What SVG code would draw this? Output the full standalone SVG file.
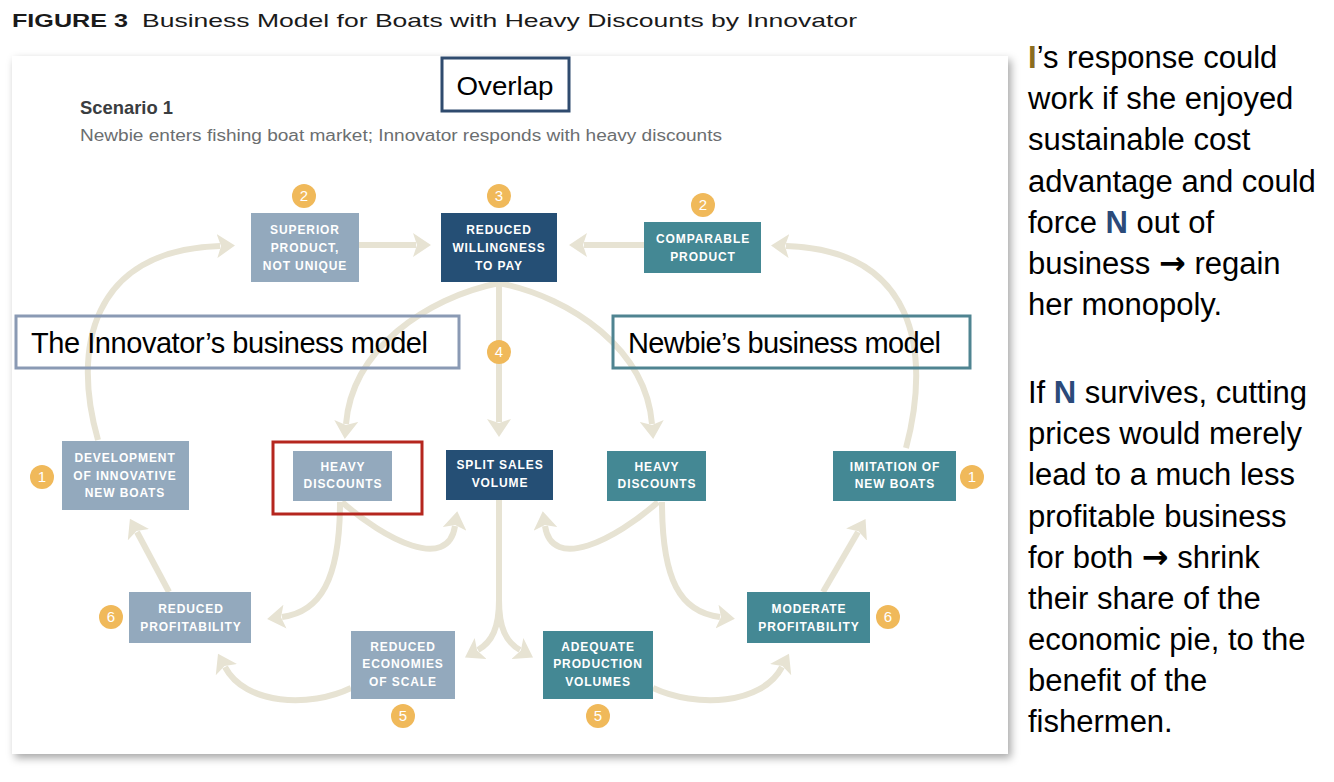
<svg xmlns="http://www.w3.org/2000/svg" width="1334" height="782" viewBox="0 0 1334 782">
<defs>
<style>
.light{fill:#93a9bd}
.navy{fill:#254f75}
.teal{fill:#448894}
.nt{font-family:"Liberation Sans",Arial,sans-serif;font-weight:bold;font-size:12px;fill:#fff;letter-spacing:0.9px;text-anchor:middle}
.badge circle{fill:#f0b95a}
.badge text{font-family:"Liberation Sans",Arial,sans-serif;font-size:15px;fill:#fff;text-anchor:middle}
.conn path{fill:none;stroke:#e7e3d3;stroke-width:6}
.lbl{font-family:"Liberation Sans",Arial,sans-serif;font-size:29px;fill:#000}
.side{font-family:"Liberation Sans",Arial,sans-serif;font-size:31px;fill:#000}
.arr{font-family:"Noto Sans","DejaVu Sans",sans-serif;font-weight:bold;font-size:32px}
</style>
<marker id="ah" markerUnits="userSpaceOnUse" markerWidth="18" markerHeight="24" viewBox="0 0 18 24" refX="3" refY="12" orient="auto">
<path d="M0,0 L18,12 L0,24 L4,12 z" fill="#e7e3d3"/>
</marker>
<filter id="sh" x="-5%" y="-5%" width="110%" height="112%">
<feDropShadow dx="3" dy="4" stdDeviation="4" flood-color="#000" flood-opacity="0.35"/>
</filter>
</defs>
<rect width="1334" height="782" fill="#fff"/>

<g id="title">
<text x="12" y="27" font-family="Liberation Sans,Arial,sans-serif" font-weight="bold" font-size="18.5" fill="#1a1a1a" textLength="116" lengthAdjust="spacingAndGlyphs">FIGURE 3</text>
<text x="142" y="27" font-family="Liberation Sans,Arial,sans-serif" font-size="18.5" fill="#1a1a1a" textLength="715" lengthAdjust="spacingAndGlyphs">Business Model for Boats with Heavy Discounts by Innovator</text>
</g>

<rect id="card" x="12" y="56" width="996" height="698" fill="#fff" filter="url(#sh)"/>

<g id="scenario">
<text x="80" y="114" font-family="Liberation Sans,Arial,sans-serif" font-weight="bold" font-size="19" fill="#3a3d40" textLength="93" lengthAdjust="spacingAndGlyphs">Scenario 1</text>
<text x="80" y="141" font-family="Liberation Sans,Arial,sans-serif" font-size="16" fill="#6b6e70" textLength="642" lengthAdjust="spacingAndGlyphs">Newbie enters fishing boat market; Innovator responds with heavy discounts</text>
</g>

<g id="connectors" class="conn">
<path d="M98 440 C72 350 90 250 220 246" marker-end="url(#ah)"/>
<path d="M906 448 C932 350 914 250 786 246" marker-end="url(#ah)"/>
<path d="M359 245 L416 245" marker-end="url(#ah)"/>
<path d="M644 245 L584 245" marker-end="url(#ah)"/>
<path d="M499 283 L499 422" marker-end="url(#ah)"/>
<path d="M499 283 C425 298 352 350 346 424" marker-end="url(#ah)"/>
<path d="M499 283 C573 298 646 350 652 424" marker-end="url(#ah)"/>
<path d="M340 502 C340 580 320 612 282 617" marker-end="url(#ah)"/>
<path d="M342 502 C385 540 448 572 455 526" marker-end="url(#ah)"/>
<path d="M658 502 C615 540 552 572 545 526" marker-end="url(#ah)"/>
<path d="M662 502 C662 580 680 612 720 617" marker-end="url(#ah)"/>
<path d="M499 500 L499 600 C499 628 492 642 478 650" marker-end="url(#ah)"/>
<path d="M499 600 C499 628 506 642 520 650" marker-end="url(#ah)"/>
<path d="M169 592 L137 532" marker-end="url(#ah)"/>
<path d="M823 592 L858 532" marker-end="url(#ah)"/>
<path d="M351 688 C310 708 245 705 225 667" marker-end="url(#ah)"/>
<path d="M653 688 C696 708 762 705 782 667" marker-end="url(#ah)"/>
</g>

<g id="n-superior">
<rect class="light" x="251" y="213" width="108" height="69"/>
<text class="nt" x="305" y="234">SUPERIOR</text>
<text class="nt" x="305" y="252">PRODUCT,</text>
<text class="nt" x="305" y="270">NOT UNIQUE</text>
<g class="badge"><circle cx="304" cy="196" r="12"/><text x="304" y="201">2</text></g>
</g>
<g id="n-willingness">
<rect class="navy" x="441" y="213" width="116" height="69"/>
<text class="nt" x="499" y="234">REDUCED</text>
<text class="nt" x="499" y="252">WILLINGNESS</text>
<text class="nt" x="499" y="270">TO PAY</text>
<g class="badge"><circle cx="499" cy="196" r="12"/><text x="499" y="201">3</text></g>
</g>
<g id="n-comparable">
<rect class="teal" x="644" y="222" width="117" height="51"/>
<text class="nt" x="703" y="243">COMPARABLE</text>
<text class="nt" x="703" y="261">PRODUCT</text>
<g class="badge"><circle cx="703" cy="205" r="12"/><text x="703" y="210">2</text></g>
</g>

<g id="label-innovator">
<rect x="16" y="316" width="443" height="52" fill="none" stroke="#8a9ab4" stroke-width="3"/>
<text class="lbl" x="31" y="353" textLength="397">The Innovator’s business model</text>
</g>
<g id="label-newbie">
<rect x="613" y="316" width="357" height="52" fill="none" stroke="#4f8491" stroke-width="3"/>
<text class="lbl" x="628" y="353" textLength="313">Newbie’s business model</text>
</g>

<g id="badge-4" class="badge"><circle cx="499" cy="352" r="12"/><text x="499" y="357">4</text></g>

<g id="n-development">
<rect class="light" x="62" y="441" width="127" height="69"/>
<text class="nt" x="125" y="462">DEVELOPMENT</text>
<text class="nt" x="125" y="480">OF INNOVATIVE</text>
<text class="nt" x="125" y="497">NEW BOATS</text>
<g class="badge"><circle cx="42" cy="477" r="12"/><text x="42" y="482">1</text></g>
</g>
<g id="n-heavy-left">
<rect x="273" y="442" width="149" height="72" fill="none" stroke="#b5261e" stroke-width="3"/>
<rect class="light" x="293" y="451" width="99" height="50"/>
<text class="nt" x="343" y="471">HEAVY</text>
<text class="nt" x="343" y="488">DISCOUNTS</text>
</g>
<g id="n-split">
<rect class="navy" x="446" y="450" width="107" height="50"/>
<text class="nt" x="500" y="469">SPLIT SALES</text>
<text class="nt" x="500" y="487">VOLUME</text>
</g>
<g id="n-heavy-right">
<rect class="teal" x="607" y="451" width="99" height="50"/>
<text class="nt" x="657" y="471">HEAVY</text>
<text class="nt" x="657" y="488">DISCOUNTS</text>
</g>
<g id="n-imitation">
<rect class="teal" x="833" y="451" width="123" height="50"/>
<text class="nt" x="895" y="471">IMITATION OF</text>
<text class="nt" x="895" y="488">NEW BOATS</text>
<g class="badge"><circle cx="972" cy="477" r="12"/><text x="972" y="482">1</text></g>
</g>

<g id="n-reduced-profit">
<rect class="light" x="129" y="592" width="122" height="51"/>
<text class="nt" x="191" y="613">REDUCED</text>
<text class="nt" x="191" y="631">PROFITABILITY</text>
<g class="badge"><circle cx="111" cy="617" r="12"/><text x="111" y="622">6</text></g>
</g>
<g id="n-economies">
<rect class="light" x="351" y="631" width="104" height="68"/>
<text class="nt" x="403" y="651">REDUCED</text>
<text class="nt" x="403" y="668">ECONOMIES</text>
<text class="nt" x="403" y="686">OF SCALE</text>
<g class="badge"><circle cx="403" cy="716" r="12"/><text x="403" y="721">5</text></g>
</g>
<g id="n-adequate">
<rect class="teal" x="543" y="631" width="110" height="68"/>
<text class="nt" x="598" y="651">ADEQUATE</text>
<text class="nt" x="598" y="668">PRODUCTION</text>
<text class="nt" x="598" y="686">VOLUMES</text>
<g class="badge"><circle cx="598" cy="716" r="12"/><text x="598" y="721">5</text></g>
</g>
<g id="n-moderate">
<rect class="teal" x="747" y="592" width="123" height="51"/>
<text class="nt" x="809" y="613">MODERATE</text>
<text class="nt" x="809" y="631">PROFITABILITY</text>
<g class="badge"><circle cx="888" cy="617" r="12"/><text x="888" y="622">6</text></g>
</g>

<g id="n-overlap">
<rect x="442" y="58" width="127" height="53" fill="#fff" stroke="#2f4b6e" stroke-width="3"/>
<text x="505" y="95" font-family="Liberation Sans,Arial,sans-serif" font-size="25" text-anchor="middle" textLength="97" lengthAdjust="spacingAndGlyphs">Overlap</text>
</g>

<g id="side-text" class="side">
<text x="1028" y="68"><tspan fill="#8b6d1f" font-weight="bold">I</tspan>’s response could</text>
<text x="1028" y="109">work if she enjoyed</text>
<text x="1028" y="150">sustainable cost</text>
<text x="1028" y="192">advantage and could</text>
<text x="1028" y="233">force <tspan fill="#2b4a7a" font-weight="bold">N</tspan> out of</text>
<text x="1028" y="274">business <tspan class="arr">→</tspan> regain</text>
<text x="1028" y="315">her monopoly.</text>
<text x="1028" y="403">If <tspan fill="#2b4a7a" font-weight="bold">N</tspan> survives, cutting</text>
<text x="1028" y="444">prices would merely</text>
<text x="1028" y="485">lead to a much less</text>
<text x="1028" y="527">profitable business</text>
<text x="1028" y="568">for both <tspan class="arr">→</tspan> shrink</text>
<text x="1028" y="609">their share of the</text>
<text x="1028" y="650">economic pie, to the</text>
<text x="1028" y="691">benefit of the</text>
<text x="1028" y="732">fishermen.</text>
</g>
</svg>
